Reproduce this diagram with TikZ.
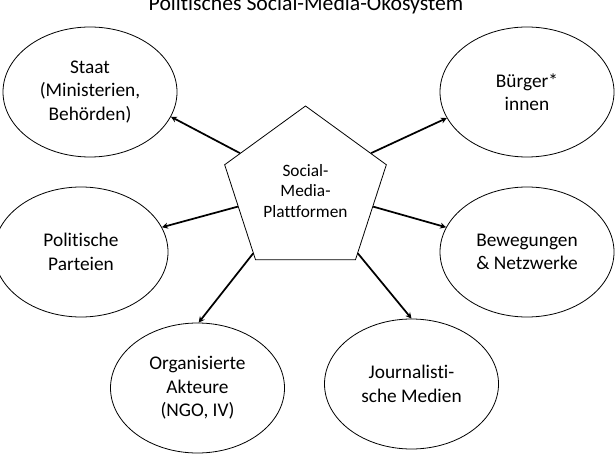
\documentclass[tikz,border=0pt]{standalone}
\usepackage{fontspec}
\setmainfont{Carlito}[Ligatures=NoCommon]
\usetikzlibrary{shapes.geometric,arrows.meta}

\begin{document}
\begin{tikzpicture}[x=0.75pt, y=-0.75pt,
	akteur/.style = {draw, ellipse, line width=0.6pt, minimum width=130.5pt, minimum height=97.5pt, inner sep=0pt, align=center, font=\fontsize{14.5}{17.5}\selectfont},
	plattform/.style = {draw, regular polygon, regular polygon sides=5, minimum size=127.5pt, inner sep=0pt, line width=0.6pt, align=center, font=\fontsize{13}{15.6}\selectfont},
	pfeil/.style = {-{Stealth[length=4.5pt, width=4.5pt]}, line width=1.3pt}]
	\useasboundingbox (0,0) rectangle (616,459);
	\node[anchor=base, font=\fontsize{16.3}{19}\selectfont] (titel) at (306,11) {Politisches Social-Media-Ökosystem};
	\node[plattform] (p) at (305.5,191) {Social-\\Media-\\Plattformen};
	\node[akteur] (staat) at (90,92) {Staat\\(Ministerien,\\Behörden)};
	\node[akteur] (buerger) at (527,92) {Bürger*\\innen};
	\node[akteur] (parteien) at (81,252) {Politische\\Parteien};
	\node[akteur] (bewegung) at (527,252) {Bewegungen\\\& Netzwerke};
	\node[akteur] (ngo) at (197.5,388) {Organisierte\\Akteure\\(NGO, IV)};
	\node[akteur] (medien) at (411.5,384) {Journalisti-\\sche Medien};
	\draw[pfeil] (p.150) -- (staat.-17);
	\draw[pfeil] (p.30) -- (buerger.-162);
	\draw[pfeil] (p.-167) -- (parteien.17);
	\draw[pfeil] (p.-13) -- (bewegung.163);
	\draw[pfeil] (p.-130) -- (ngo.89);
	\draw[pfeil] (p.-50) -- (medien.90);
\end{tikzpicture}
\end{document}
